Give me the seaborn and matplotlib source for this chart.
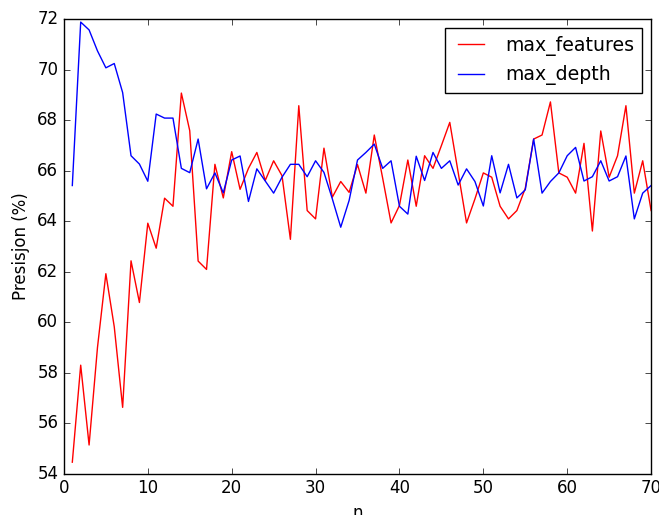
import numpy as np
import pandas as pd
import seaborn as sns
import matplotlib
matplotlib.use("Agg")
import matplotlib.pyplot as plt

# Precision for each n
n_values = list(range(1, 71))

max_features = [
    54.46, 58.30, 55.14, 59.00, 61.92, 59.82, 56.63, 62.43, 60.78, 63.92,
    62.93, 64.91, 64.59, 69.07, 67.58, 62.42, 62.09, 66.25, 64.92, 66.75,
    65.26, 66.09, 66.72, 65.61, 66.39, 65.80, 63.28, 68.57, 64.42, 64.09,
    66.89, 64.95, 65.57, 65.14, 66.24, 65.11, 67.41, 65.70, 63.93, 64.62,
    66.42, 64.59, 66.59, 66.09, 66.99, 67.91, 65.93, 63.93, 64.88, 65.91,
    65.74, 64.59, 64.09, 64.42, 65.30, 67.25, 67.41, 68.72, 65.91, 65.74,
    65.11, 67.08, 63.61, 67.57, 65.74, 66.59, 68.57, 65.11, 66.39, 64.42,
]

max_depth = [
    65.41, 71.88, 71.57, 70.74, 70.07, 70.24, 69.09, 66.59, 66.26, 65.58,
    68.24, 68.08, 68.08, 66.09, 65.92, 67.25, 65.28, 65.91, 65.12, 66.42,
    66.58, 64.78, 66.07, 65.59, 65.11, 65.74, 66.25, 66.25, 65.76, 66.39,
    65.93, 64.88, 63.76, 64.82, 66.42, 66.72, 67.05, 66.09, 66.39, 64.59,
    64.28, 66.57, 65.61, 66.72, 66.09, 66.39, 65.43, 66.07, 65.57, 64.60,
    66.59, 65.12, 66.25, 64.92, 65.24, 67.25, 65.11, 65.57, 65.91, 66.59,
    66.92, 65.59, 65.76, 66.39, 65.59, 65.76, 66.58, 64.09, 65.11, 65.41,
]

df = pd.DataFrame({
    "n": n_values * 2,
    "precision": max_features + max_depth,
    "param": ["max_features"] * len(n_values) + ["max_depth"] * len(n_values),
})

plt.style.use("classic")
plt.rcParams["figure.facecolor"] = "white"
plt.rcParams["savefig.facecolor"] = "white"

fig = plt.figure(figsize=(6.59, 5.15), dpi=100)
ax = fig.add_axes([0.097, 0.080, 0.891, 0.883])

sns.lineplot(data=df, x="n", y="precision", hue="param",
             palette={"max_features": "red", "max_depth": "blue"},
             linewidth=1.0, ax=ax, legend=False)

ax.set_xlim(0, 70)
ax.set_ylim(54, 72)
ax.set_xticks(range(0, 71, 10))
ax.set_yticks(range(54, 73, 2))
ax.set_xlabel("n")
ax.set_ylabel("Presisjon (%)")

handles = [plt.Line2D([], [], color="red", linewidth=1.0),
           plt.Line2D([], [], color="blue", linewidth=1.0)]
ax.legend(handles, ["max_features", "max_depth"], loc="upper right",
          fontsize=13.6)

fig.savefig("out.png", dpi=100)
